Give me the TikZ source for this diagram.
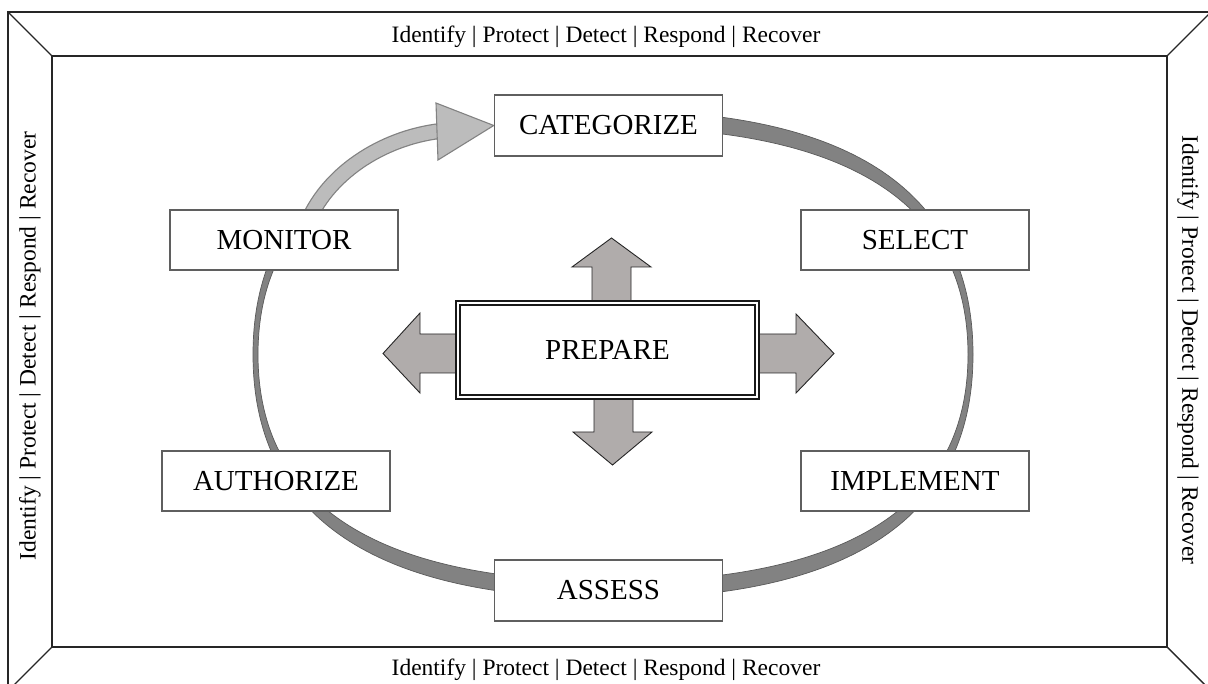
\documentclass[tikz,border=0pt]{standalone}
\usepackage{fontspec}
\setmainfont{Liberation Serif}
\usetikzlibrary{backgrounds}
\definecolor{ringdark}{RGB}{130,130,130}
\definecolor{ringedge}{RGB}{90,90,90}
\definecolor{arrowlight}{RGB}{188,188,188}
\definecolor{arrowedge}{RGB}{130,130,130}
\definecolor{blockfill}{RGB}{176,172,171}
\definecolor{boxedge}{RGB}{95,95,95}
\tikzset{
  stepbox/.style={draw=boxedge, line width=1.5pt, fill=white, minimum width=228pt,
    minimum height=60pt, inner sep=0pt, font=\fontsize{29}{34}\selectfont},
  prepbox/.style={draw=black!90, double=white, double distance=2.6pt, line width=1.7pt,
    fill=white, minimum width=299pt, minimum height=94pt, inner sep=0pt,
    font=\fontsize{29}{34}\selectfont},
  framelabel/.style={font=\fontsize{23.5}{28}\selectfont, inner sep=0pt},
  blockarrow/.style={fill=blockfill, draw=black!85, line width=0.9pt, line join=miter},
  frameline/.style={draw=black!85, line width=1.4pt},
}
\begin{document}
\begin{tikzpicture}[x=1pt,y=-1pt]
\useasboundingbox (0,0) rectangle (1208,684);
\clip (0,0) rectangle (1208,684);

% frame
\draw[frameline] (8,12) rectangle (1211,691);
\draw[frameline] (52,56) rectangle (1167,647);
\draw[frameline] (8,12) -- (52,56);
\draw[frameline] (1211,12) -- (1167,56);
\draw[frameline] (8,691) -- (52,647);
\draw[frameline] (1211,691) -- (1167,647);

\node[framelabel, anchor=base] (ftop) at (606,43) {Identify | Protect | Detect | Respond | Recover};
\node[framelabel, anchor=base] (fbot) at (606,675) {Identify | Protect | Detect | Respond | Recover};
\node[framelabel, rotate=90] (fleft) at (30,346) {Identify | Protect | Detect | Respond | Recover};
\node[framelabel, rotate=-90] (fright) at (1188,350) {Identify | Protect | Detect | Respond | Recover};

% step boxes
\node[stepbox, minimum height=61pt] (cat) at (608.5,125.5) {CATEGORIZE};
\node[stepbox] (sel) at (915,240) {SELECT};
\node[stepbox] (imp) at (915,481) {IMPLEMENT};
\node[stepbox, minimum height=61pt] (ass) at (608.5,590.5) {ASSESS};
\node[stepbox] (aut) at (276,481) {AUTHORIZE};
\node[stepbox] (mon) at (284,240) {MONITOR};
\node[prepbox] (prep) at (607.5,350) {PREPARE};

\begin{scope}[on background layer]
  % ring (dark part)
  \begin{scope}
    \clip (560,-10) -- (1220,-10) -- (1220,700) -- (-10,700) -- (-10,245) -- (300,245) -- (560,200) -- cycle;
    \path[fill=ringdark, draw=ringedge, line width=0.7pt, even odd rule]
      (973,354.5) .. controls (973,192.5) and (852,110.5) .. (613,110.5)
      .. controls (374,110.5) and (253,192.5) .. (253,354.5)
      .. controls (253,516.5) and (374,598.5) .. (613,598.5)
      .. controls (852,598.5) and (973,516.5) .. (973,354.5) -- cycle
      (968,354.5) .. controls (968,203.8) and (848.7,127.5) .. (613,127.5)
      .. controls (377.3,127.5) and (258,203.8) .. (258,354.5)
      .. controls (258,505.2) and (377.3,581.5) .. (613,581.5)
      .. controls (848.7,581.5) and (968,505.2) .. (968,354.5) -- cycle;
  \end{scope}
  % light arrow from MONITOR to CATEGORIZE
  \draw[arrowedge, line width=16pt] (306,226) .. controls (326,174) and (382,138) .. (440,131);
  \draw[arrowlight, line width=13.5pt] (306,226) .. controls (326,174) and (382,138) .. (440,131);
  \path[fill=arrowlight, draw=arrowedge, line width=1.1pt, line join=miter]
    (436,103) -- (cat.west) -- (438,160) -- cycle;

  % block arrows around PREPARE
  \path[blockarrow] (592,310) -- (592,267) -- (572,267) -- (611.5,238) -- (651,267) -- (631,267) -- (631,310) -- cycle;
  \path[blockarrow] (594,390) -- (594,432) -- (573,432) -- (612.5,465) -- (652,432) -- (633,432) -- (633,390) -- cycle;
  \path[blockarrow] (750,334) -- (796,334) -- (796,314) -- (834,353.5) -- (796,393) -- (796,373) -- (750,373) -- cycle;
  \path[blockarrow] (465,334) -- (420,334) -- (420,313) -- (383,353.5) -- (420,393) -- (420,373) -- (465,373) -- cycle;
\end{scope}
\end{tikzpicture}
\end{document}
